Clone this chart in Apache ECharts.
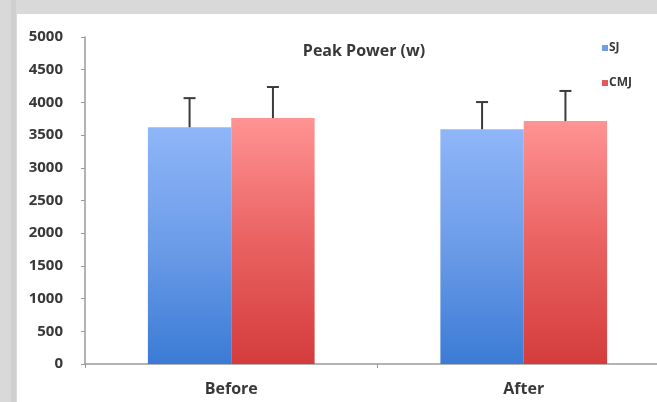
<!DOCTYPE html>
<html>
<head>
<meta charset="utf-8">
<script src="https://cdn.jsdelivr.net/npm/echarts@6/dist/echarts.min.js"></script>
<style>
html,body{margin:0;padding:0;background:#d9d9d9;}
#c{width:657px;height:402px;}
</style>
</head>
<body>
<div id="c"></div>
<script>
var categories = ['Before', 'After'];
var seriesNames = ['SJ', 'CMJ'];
var sjValues = [3620, 3590];
var cmjValues = [3760, 3715];
var sjErr = [445, 415];
var cmjErr = [475, 460];
var yTicks = [0, 500, 1000, 1500, 2000, 2500, 3000, 3500, 4000, 4500, 5000];

var CAT_GAP = 0.43;
var FONT = '"Open Sans", "Liberation Sans", sans-serif';

function errData(vals, errs) {
  return vals.map(function (v, i) { return [i, v, v + errs[i]]; });
}

function errRender(side) {
  return function (params, api) {
    var idx = api.value(0);
    var base = api.coord([idx, api.value(1)]);
    var top = api.coord([idx, api.value(2)]);
    var band = api.size([1, 0])[0];
    var bw = band * (1 - CAT_GAP) / 2;
    var x = base[0] + side * bw / 2;
    var cap = 6;
    var st = { stroke: '#3a3a3a', lineWidth: 2 };
    return {
      type: 'group',
      children: [
        { type: 'line', shape: { x1: x, y1: base[1], x2: x, y2: top[1] }, style: st },
        { type: 'line', shape: { x1: x - cap, y1: top[1], x2: x + cap, y2: top[1] }, style: st }
      ]
    };
  };
}

function grad(top, mid, bottom) {
  return new echarts.graphic.LinearGradient(0, 0, 0, 1, [
    { offset: 0, color: top },
    { offset: 0.5, color: mid },
    { offset: 1, color: bottom }
  ]);
}

var chart = echarts.init(document.getElementById('c'));
chart.setOption({
  backgroundColor: '#d9d9d9',
  animation: false,
  graphic: [
    { type: 'rect', left: 11, top: 0, shape: { width: 5, height: 402 }, style: { fill: '#cfcfcf' }, z: -10 },
    { type: 'rect', left: 17, top: 14, shape: { width: 640, height: 388 }, style: { fill: '#ffffff' }, z: -9 }
  ],
  title: {
    text: 'Peak Power (w)',
    left: 359,
    textAlign: 'center',
    top: 38,
    textStyle: { fontFamily: FONT, fontSize: 16, fontWeight: 'bold', color: '#383838' }
  },
  legend: {
    orient: 'vertical',
    left: 597,
    top: 37,
    itemWidth: 6,
    itemHeight: 6,
    itemGap: 23,
    icon: 'rect',
    data: [
      { name: 'SJ', itemStyle: { color: '#6f9de6' } },
      { name: 'CMJ', itemStyle: { color: '#e05a5a' } }
    ],
    textStyle: { fontFamily: FONT, fontSize: 12, fontWeight: 'bold', color: '#383838', padding: [0, 0, 0, -4] }
  },
  grid: { left: 85, width: 585, top: 37, height: 327, containLabel: false, outerBoundsMode: 'none' },
  xAxis: {
    type: 'category',
    data: categories,
    axisLine: { lineStyle: { color: '#9a9a9a', width: 1.5 } },
    axisTick: { show: true, length: 4, lineStyle: { color: '#9a9a9a' } },
    axisLabel: { margin: 17, fontFamily: FONT, fontSize: 16, fontWeight: 'bold', color: '#383838' }
  },
  yAxis: {
    type: 'value',
    min: yTicks[0],
    max: yTicks[yTicks.length - 1],
    interval: 500,
    splitLine: { show: false },
    axisLine: { show: true, lineStyle: { color: '#9a9a9a', width: 1.5 } },
    axisTick: { show: true, length: 4, lineStyle: { color: '#9a9a9a' } },
    axisLabel: {
      margin: 22, fontFamily: FONT, fontSize: 15, fontWeight: 'bold', color: '#383838',
      formatter: function (v) { return String(v); }
    }
  },
  series: [
    {
      name: 'SJ', type: 'bar', data: sjValues, barGap: '0%', barCategoryGap: (CAT_GAP * 100) + '%',
      itemStyle: { color: grad('#8fb6f8', '#6c9ce8', '#3b7bd5') }
    },
    {
      name: 'CMJ', type: 'bar', data: cmjValues, barGap: '0%', barCategoryGap: (CAT_GAP * 100) + '%',
      itemStyle: { color: grad('#ff9393', '#ea6262', '#d43c3c') }
    },
    {
      name: 'SJ err', type: 'custom', data: errData(sjValues, sjErr), renderItem: errRender(-1),
      encode: { x: 0, y: [1, 2] }, z: 3, silent: true
    },
    {
      name: 'CMJ err', type: 'custom', data: errData(cmjValues, cmjErr), renderItem: errRender(1),
      encode: { x: 0, y: [1, 2] }, z: 3, silent: true
    }
  ]
});
</script>
</body>
</html>
